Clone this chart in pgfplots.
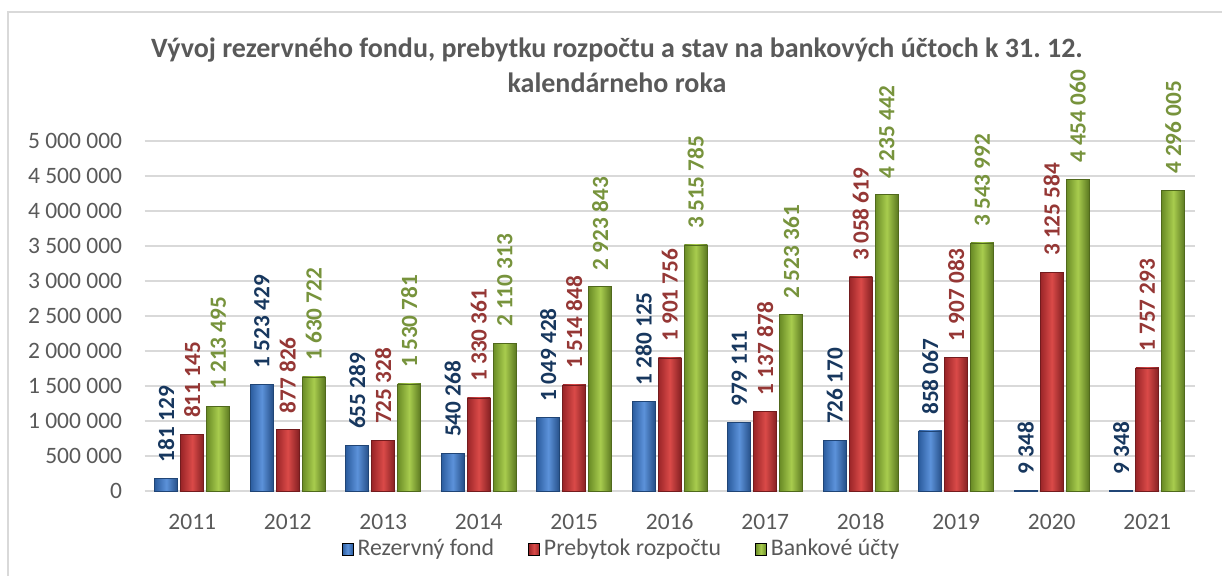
\documentclass[border=0pt]{standalone}
\usepackage{pgfplots}
\usepackage{pgfplotstable}
\pgfplotsset{compat=1.18}
\usepackage{fontspec}
\setmainfont{Carlito}
\frenchspacing
\definecolor{txt}{HTML}{595959}
\definecolor{gridc}{HTML}{D9D9D9}
\definecolor{bluel}{HTML}{17375E}
\definecolor{redl}{HTML}{953735}
\definecolor{greenl}{HTML}{77933C}
\definecolor{blueA}{HTML}{2B5C9E}
\definecolor{blueB}{HTML}{5C92DA}
\definecolor{redA}{HTML}{9A2528}
\definecolor{redB}{HTML}{DA4A48}
\definecolor{greenA}{HTML}{6A8C26}
\definecolor{greenB}{HTML}{A8CC4E}
\pgfplotstableread{
x a b c la lb lc
0 181129 811145 1213495 {181 129} {811 145} {1 213 495}
1 1523429 877826 1630722 {1 523 429} {877 826} {1 630 722}
2 655289 725328 1530781 {655 289} {725 328} {1 530 781}
3 540268 1330361 2110313 {540 268} {1 330 361} {2 110 313}
4 1049428 1514848 2923843 {1 049 428} {1 514 848} {2 923 843}
5 1280125 1901756 3515785 {1 280 125} {1 901 756} {3 515 785}
6 979111 1137878 2523361 {979 111} {1 137 878} {2 523 361}
7 726170 3058619 4235442 {726 170} {3 058 619} {4 235 442}
8 858067 1907083 3543992 {858 067} {1 907 083} {3 543 992}
9 9348 3125584 4454060 {9 348} {3 125 584} {4 454 060}
10 9348 1757293 4296005 {9 348} {1 757 293} {4 296 005}
}\data
\begin{document}
\begin{tikzpicture}[x=1pt,y=1pt]
\useasboundingbox (0,0) rectangle (611,288);
\draw[color=gridc, line width=1pt] (4,-10) rectangle (625,282);
\node[anchor=base, text=txt, font=\bfseries\fontsize{14}{16}\selectfont] at (308.5,259) {Vývoj rezervného fondu, prebytku rozpočtu a stav na bankových účtoch k 31. 12.};
\node[anchor=base, text=txt, font=\bfseries\fontsize{14}{16}\selectfont] at (308.5,241.5) {kalendárneho roka};
\begin{axis}[
  at={(72.25pt,42.5pt)}, anchor=south west,
  scale only axis, width=525.25pt, height=175pt,
  ybar=1.5pt, bar width=11.5pt,
  xmin=-0.5, xmax=10.5, ymin=0, ymax=5000000,
  clip=false,
  xtick={0,...,10},
  xticklabels={2011,2012,2013,2014,2015,2016,2017,2018,2019,2020,2021},
  ytick={0,500000,1000000,1500000,2000000,2500000,3000000,3500000,4000000,4500000,5000000},
  yticklabels={0,500 000,1 000 000,1 500 000,2 000 000,2 500 000,3 000 000,3 500 000,4 000 000,4 500 000,5 000 000},
  scaled y ticks=false,
  /pgf/number format/assume math mode=true,
  axis line style={draw=none},
  major tick length=0pt,
  ymajorgrids, grid style={draw=gridc, line width=1.2pt},
  yticklabel style={anchor=east, inner sep=0pt, xshift=-11pt, font=\fontsize{11.75}{14}\selectfont, text=txt},
  xticklabel style={anchor=base, inner sep=0pt, yshift=-19.5pt, font=\fontsize{11.75}{14}\selectfont, text=txt},
  nodes near coords,
  every node near coord/.append style={rotate=90, anchor=west, inner xsep=8pt, inner ysep=0pt, font=\bfseries\fontsize{11.6}{14}\selectfont},
  legend columns=3,
  legend style={at={(0.455,-0.166)}, anchor=center, draw=none, fill=none, font=\fontsize{11.9}{14}\selectfont, text=txt,
    /tikz/every even column/.append style={column sep=15pt}},
]
\pgfplotsinvokeforeach{0,...,10}{
\addplot[forget plot, bar shift=-13pt, restrict x to domain=#1:#1, point meta=explicit symbolic,
  draw=blueA!75!black, line width=0.3pt, left color=blueA, right color=blueA!85!black, middle color=blueB,
  every node near coord/.append style={text=bluel}]
  table[x=x, y=a, meta=la] {\data};
\addplot[forget plot, bar shift=0pt, restrict x to domain=#1:#1, point meta=explicit symbolic,
  draw=redA!75!black, line width=0.3pt, left color=redA, right color=redA!85!black, middle color=redB,
  every node near coord/.append style={text=redl}]
  table[x=x, y=b, meta=lb] {\data};
\addplot[forget plot, bar shift=13pt, restrict x to domain=#1:#1, point meta=explicit symbolic,
  draw=greenA!75!black, line width=0.3pt, left color=greenA, right color=greenA!85!black, middle color=greenB,
  every node near coord/.append style={text=greenl}]
  table[x=x, y=c, meta=lc] {\data};
}
\addlegendimage{legend image code/.code={\fill[left color=blueA, right color=blueA, middle color=blueB] (0pt,-3pt) rectangle (5.5pt,3pt);}}
\addlegendentry{Rezervný fond}
\addlegendimage{legend image code/.code={\fill[left color=redA, right color=redA, middle color=redB] (0pt,-3pt) rectangle (5.5pt,3pt);}}
\addlegendentry{Prebytok rozpočtu}
\addlegendimage{legend image code/.code={\fill[left color=greenA, right color=greenA, middle color=greenB] (0pt,-3pt) rectangle (5.5pt,3pt);}}
\addlegendentry{Bankové účty}
\end{axis}
\end{tikzpicture}
\end{document}
